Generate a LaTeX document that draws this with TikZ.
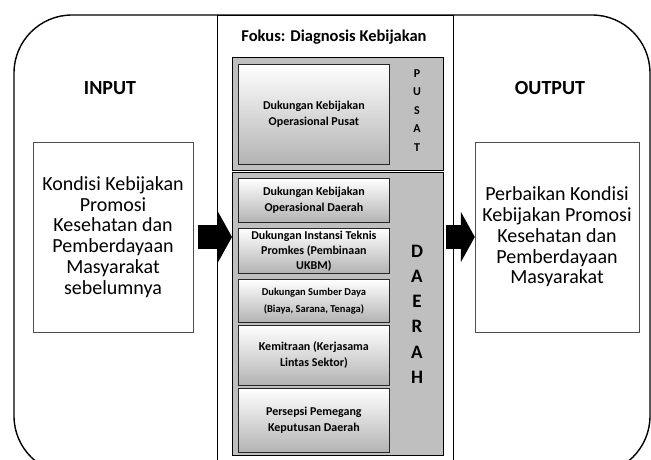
\documentclass[tikz,border=0pt]{standalone}
\usepackage{fontspec}
\setmainfont{Carlito}
\usepackage{tikz}
\usetikzlibrary{arrows.meta}
\tikzset{
    frame/.style={draw,line width=1.4pt,rounded corners=58pt},
    sidebox/.style={draw=black!70,thin,fill=white,minimum width=160pt,minimum height=190pt,
        align=center,font=\fontsize{20}{20.8}\selectfont},
    sidehead/.style={font=\bfseries\fontsize{20}{22}\selectfont},
    levelbox/.style={draw=black,line width=1.3pt,fill=gray!50,anchor=north west,minimum width=211pt},
    factor/.style={draw=black!85,line width=0.8pt,top color=white,bottom color=gray!60,
        anchor=north west,minimum width=151pt,inner sep=1pt,align=center,
        font=\bfseries\fontsize{12}{16}\selectfont},
    pletter/.style={inner sep=0pt,font=\bfseries\fontsize{12}{12}\selectfont},
    dletter/.style={inner sep=0pt,font=\bfseries\fontsize{19}{19}\selectfont},
    blockarrow/.style={line width=24pt,-{Triangle[length=14pt,width=50pt]}},
}
\begin{document}
\begin{tikzpicture}[x=1pt,y=-1pt]
\useasboundingbox (0,0) rectangle (651,460);
\clip (0,0) rectangle (651,460);
\draw[frame] (14,15) rectangle (650,474);
\node[draw,thin,anchor=north west,minimum width=236pt,minimum height=460pt] (fokus) at (217,15) {};
\node[font=\bfseries\fontsize{16.5}{18}\selectfont] (judul) at (334,37) {Fokus: Diagnosis Kebijakan};

% input / output
\node[sidehead] (inhead) at (110,88) {INPUT};
\node[sidebox] (inbox) at (113,237) {Kondisi Kebijakan\\Promosi\\Kesehatan dan\\Pemberdayaan\\Masyarakat\\sebelumnya};
\node[sidehead] (outhead) at (550,88) {OUTPUT};
\node[sidebox,minimum width=164pt] (outbox) at (557,237) {Perbaikan Kondisi\\Kebijakan Promosi\\Kesehatan dan\\Pemberdayaan\\Masyarakat};

% pusat
\node[levelbox,minimum height=113pt] (pusat) at (232,57) {};
\node[factor,minimum height=100pt] (f0) at (238,64) {Dukungan Kebijakan\\Operasional Pusat};
\foreach \ch [count=\i] in {P,U,S,A,T}
    \node[pletter] (p\i) at (417,{55+18.5*\i}) {\ch};

% daerah
\node[levelbox,minimum height=283pt] (daerah) at (232,172) {};
\node[factor,minimum height=44pt] (f1) at (238,178) {Dukungan Kebijakan\\Operasional Daerah};
\node[factor,minimum height=45pt,font=\bfseries\fontsize{12}{15}\selectfont] (f2) at (238,228) {Dukungan Instansi Teknis\\Promkes (Pembinaan\\UKBM)};
\node[factor,minimum height=43pt,font=\bfseries\fontsize{10.5}{17}\selectfont] (f3) at (238,279) {Dukungan Sumber Daya\\(Biaya, Sarana, Tenaga)};
\node[factor,minimum height=60pt] (f4) at (238,325) {Kemitraan (Kerjasama\\Lintas Sektor)};
\node[factor,minimum height=64pt] (f5) at (238,388) {Persepsi Pemegang\\Keputusan Daerah};
\foreach \ch [count=\i] in {D,A,E,R,A,H}
    \node[dletter] (d\i) at (417,{226+25.2*\i}) {\ch};

\draw[blockarrow,shorten <=5pt] (inbox.east) -- (inbox.east -| daerah.west);
\draw[blockarrow,shorten <=2pt] (daerah.east |- outbox.west) -- (outbox.west);
\end{tikzpicture}
\end{document}
